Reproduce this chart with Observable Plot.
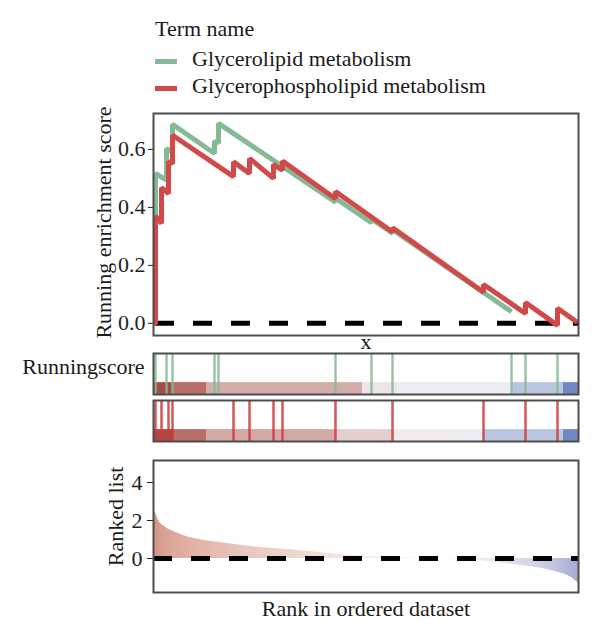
<!DOCTYPE html>
<html>
<head>
<meta charset="utf-8">
<script src="https://cdn.jsdelivr.net/npm/d3@7"></script>
<script src="https://cdn.jsdelivr.net/npm/@observablehq/plot@0.6"></script>
<style>
  body { margin: 0; background: #fff; font-family: 'Liberation Serif', serif; color: #1a1a1a; }
  #chart { position: relative; width: 600px; height: 636px; overflow: hidden; background: #fff; }
  .panel { position: absolute; left: 0; }
  .legend-text { position: absolute; font-size: 22px; line-height: 22px; white-space: nowrap; }
  .swatch { position: absolute; width: 22px; height: 5px; }
</style>
</head>
<body>
<div id="chart"></div>
<script>
// ---- data -------------------------------------------------------------
const terms = ["Glycerolipid metabolism", "Glycerophospholipid metabolism"];
const termColors = ["#86ba97", "#d14949"];
const geneCount = 8500;

// hit positions of each gene set along the ranked list
const greenHits = [40, 260, 380, 1220, 1300, 3640, 4360, 4780, 7160, 7440, 8080];
const redHits = [40, 160, 300, 380, 1600, 1920, 2400, 2580, 3640, 4780, 6600, 7440, 8080];

// running enrichment score vertices
const greenCurveRank = [0, 40, 40, 260, 260, 380, 380, 1220, 1220, 1300, 1300, 3640, 3640, 4360, 4360, 4780, 4780, 7160];
const greenCurveScore = [0, 0, 0.517, 0.494, 0.603, 0.59, 0.687, 0.586, 0.628, 0.622, 0.69, 0.418, 0.432, 0.347, 0.36, 0.311, 0.323, 0.04];
const redCurveRank = [0, 40, 40, 160, 160, 300, 300, 380, 380, 1600, 1600, 1920, 1920, 2400, 2400, 2580, 2580, 3640, 3640, 4780, 4780, 6600, 6600, 7440, 7440, 8080, 8080, 8480];
const redCurveScore = [0, 0, 0.37, 0.345, 0.468, 0.448, 0.558, 0.551, 0.649, 0.506, 0.557, 0.517, 0.569, 0.5, 0.548, 0.529, 0.56, 0.43, 0.455, 0.315, 0.33, 0.107, 0.134, 0.034, 0.072, -0.007, 0.052, 0.003];

// heat strip under the hit ticks: bins of the ranked metric
const greenBandStart = [0, 400, 1060, 4180, 4880, 7180, 8200];
const greenBandEnd = [400, 1060, 4180, 4880, 7180, 8200, 8500];
const greenBandMetric = [2.3, 1.85, 1.0, 0.25, -0.1, -0.55, -1.2];
const redBandStart = [0, 400, 1060, 3640, 4780, 6140, 6600, 8200];
const redBandEnd = [400, 1060, 3640, 4780, 6140, 6600, 8200, 8500];
const redBandMetric = [2.3, 1.85, 1.05, 0.55, 0.15, -0.1, -0.55, -1.2];

// ranked list metric
const rankedRank = [0, 40, 100, 240, 440, 700, 960, 1360, 1900, 2440, 2900, 3340, 3880, 4540, 5140, 5740, 6340, 6740, 7080, 7440, 7740, 8080, 8340, 8500];
const rankedMetric = [2.55, 2.4, 2.0, 1.65, 1.38, 1.12, 0.98, 0.83, 0.65, 0.51, 0.42, 0.3, 0.18, 0.09, 0.04, 0.0, -0.08, -0.17, -0.28, -0.4, -0.52, -0.72, -0.97, -1.3];

const scoreTicks = [0, 0.2, 0.4, 0.6];
const rankTicks = [0, 2, 4];

// ---- helpers ----------------------------------------------------------
const zip2 = (a, b, ka, kb) => a.map((v, i) => ({[ka]: v, [kb]: b[i]}));
const greenCurve = zip2(greenCurveRank, greenCurveScore, "rank", "score");
const redCurve = zip2(redCurveRank, redCurveScore, "rank", "score");
const greenBand = greenBandStart.map((s, i) => ({start: s, end: greenBandEnd[i], metric: greenBandMetric[i]}));
const redBand = redBandStart.map((s, i) => ({start: s, end: redBandEnd[i], metric: redBandMetric[i]}));
const ranked = zip2(rankedRank, rankedMetric, "rank", "metric");

const chart = document.getElementById("chart");
const font = "'Liberation Serif', serif";
const baseStyle = {background: "transparent", fontFamily: font, fontSize: "22px", color: "#222", overflow: "visible"};
const frameMark = () => Plot.frame({stroke: "#4d4d4d", strokeWidth: 2});
const zeroDash = (offset) => Plot.ruleY([0], {stroke: "#000", strokeWidth: 5, strokeDasharray: "19,19", strokeDashoffset: offset});
const side = {width: 600, marginLeft: 153, marginRight: 22};

function place(el, y) {
  const d = document.createElement("div");
  d.className = "panel";
  d.style.top = y + "px";
  d.appendChild(el);
  chart.appendChild(d);
}

// ---- legend -----------------------------------------------------------
function legendText(txt, left, y) {
  const s = document.createElement("div");
  s.className = "legend-text";
  s.style.left = left + "px";
  s.style.top = y + "px";
  s.textContent = txt;
  chart.appendChild(s);
}
legendText("Term name", 155, 18);
terms.forEach((t, i) => {
  const sw = document.createElement("div");
  sw.className = "swatch";
  sw.style.left = "155px";
  sw.style.top = (58.5 + i * 27) + "px";
  sw.style.background = termColors[i];
  chart.appendChild(sw);
  legendText(t, 192, 48 + i * 27);
});

// ---- running enrichment score ----------------------------------------
const scorePlot = Plot.plot({
  ...side, height: 250, marginTop: 13, marginBottom: 15,
  style: baseStyle,
  x: {domain: [0, geneCount], axis: null},
  y: {domain: [-0.042, 0.724], ticks: scoreTicks, tickFormat: d3.format(".1f"), tickSize: 5, tickPadding: 3, label: null},
  marks: [
    zeroDash(-2),
    Plot.line(greenCurve, {x: "rank", y: "score", stroke: termColors[0], strokeWidth: 5, strokeLinejoin: "miter", strokeLinecap: "butt"}),
    Plot.line(redCurve, {x: "rank", y: "score", stroke: termColors[1], strokeWidth: 5, strokeLinejoin: "miter", strokeLinecap: "butt"}),
    Plot.text(["Running enrichment score"], {text: d => d, frameAnchor: "left", rotate: -90, dx: -43, dy: -2, textAnchor: "middle", lineAnchor: "bottom", fontSize: 22, fill: "#1a1a1a"}),
    Plot.text(["x"], {text: d => d, frameAnchor: "bottom", dy: 13, lineAnchor: "bottom", fontSize: 22, fill: "#1a1a1a"}),
    frameMark()
  ]
});
place(scorePlot, 100);

// ---- hit strips -------------------------------------------------------
const stripColor = {type: "linear", domain: [-1.3, 0, 2.4], range: ["#6680bd", "#f7f7f9", "#a4453d"], interpolate: "rgb"};
function strip(band, hits, color, label) {
  const marks = [
    Plot.rect(band, {x1: "start", x2: "end", y1: 0, y2: 0.29, fill: "metric"}),
    Plot.ruleX(hits, {x: d => d, y1: 0, y2: 1, stroke: color, strokeWidth: 2.5, strokeOpacity: 0.85}),
    frameMark()
  ];
  if (label) marks.push(Plot.text([label], {text: d => d, frameAnchor: "left", dx: -9, dy: -0.5, textAnchor: "end", lineAnchor: "bottom", fontSize: 22, fill: "#1a1a1a"}));
  return Plot.plot({
    ...side, height: 47, marginTop: 3, marginBottom: 3,
    style: baseStyle,
    x: {domain: [0, geneCount], axis: null},
    y: {domain: [0, 1], axis: null},
    color: stripColor,
    marks
  });
}
place(strip(greenBand, greenHits, termColors[0], "Runningscore"), 350);
place(strip(redBand, redHits, "#d03a3a", null), 397);

// ---- ranked list ------------------------------------------------------
const rankPlot = Plot.plot({
  ...side, height: 192, marginTop: 16, marginBottom: 44,
  style: baseStyle,
  x: {domain: [0, geneCount], axis: null},
  y: {domain: [-1.79, 5.158], ticks: rankTicks, tickFormat: d3.format("d"), tickSize: 6, tickPadding: 5, label: null},
  marks: [
    Plot.areaY(ranked, {x: "rank", y: "metric", fill: "url(#rankFill)", curve: "monotone-x"}),
    zeroDash(0),
    Plot.text(["Ranked list"], {text: d => d, frameAnchor: "left", rotate: -90, dx: -31, dy: -10, textAnchor: "middle", lineAnchor: "bottom", fontSize: 22, fill: "#1a1a1a"}),
    Plot.text(["Rank in ordered dataset"], {text: d => d, frameAnchor: "bottom", dy: 23, lineAnchor: "bottom", fontSize: 22, fill: "#1a1a1a"}),
    frameMark()
  ]
});
// horizontal red-white-blue fill for the ranked metric area
const NS = "http://www.w3.org/2000/svg";
const defs = document.createElementNS(NS, "defs");
const grad = document.createElementNS(NS, "linearGradient");
grad.setAttribute("id", "rankFill");
grad.setAttribute("x1", "0"); grad.setAttribute("x2", "1");
grad.setAttribute("y1", "0"); grad.setAttribute("y2", "0");
[[0, "#d39587"], [0.05, "#dea99e"], [0.2, "#e9c4bc"], [0.4, "#f2dfdb"], [0.55, "#f9f2f1"], [0.65, "#f8f8fb"], [0.8, "#e6e8f2"], [0.92, "#cbcee6"], [1, "#a5abd4"]]
  .forEach(([o, c]) => {
    const st = document.createElementNS(NS, "stop");
    st.setAttribute("offset", o);
    st.setAttribute("stop-color", c);
    grad.appendChild(st);
  });
defs.appendChild(grad);
rankPlot.insertBefore(defs, rankPlot.firstChild);
place(rankPlot, 444);
</script>
</body>
</html>
